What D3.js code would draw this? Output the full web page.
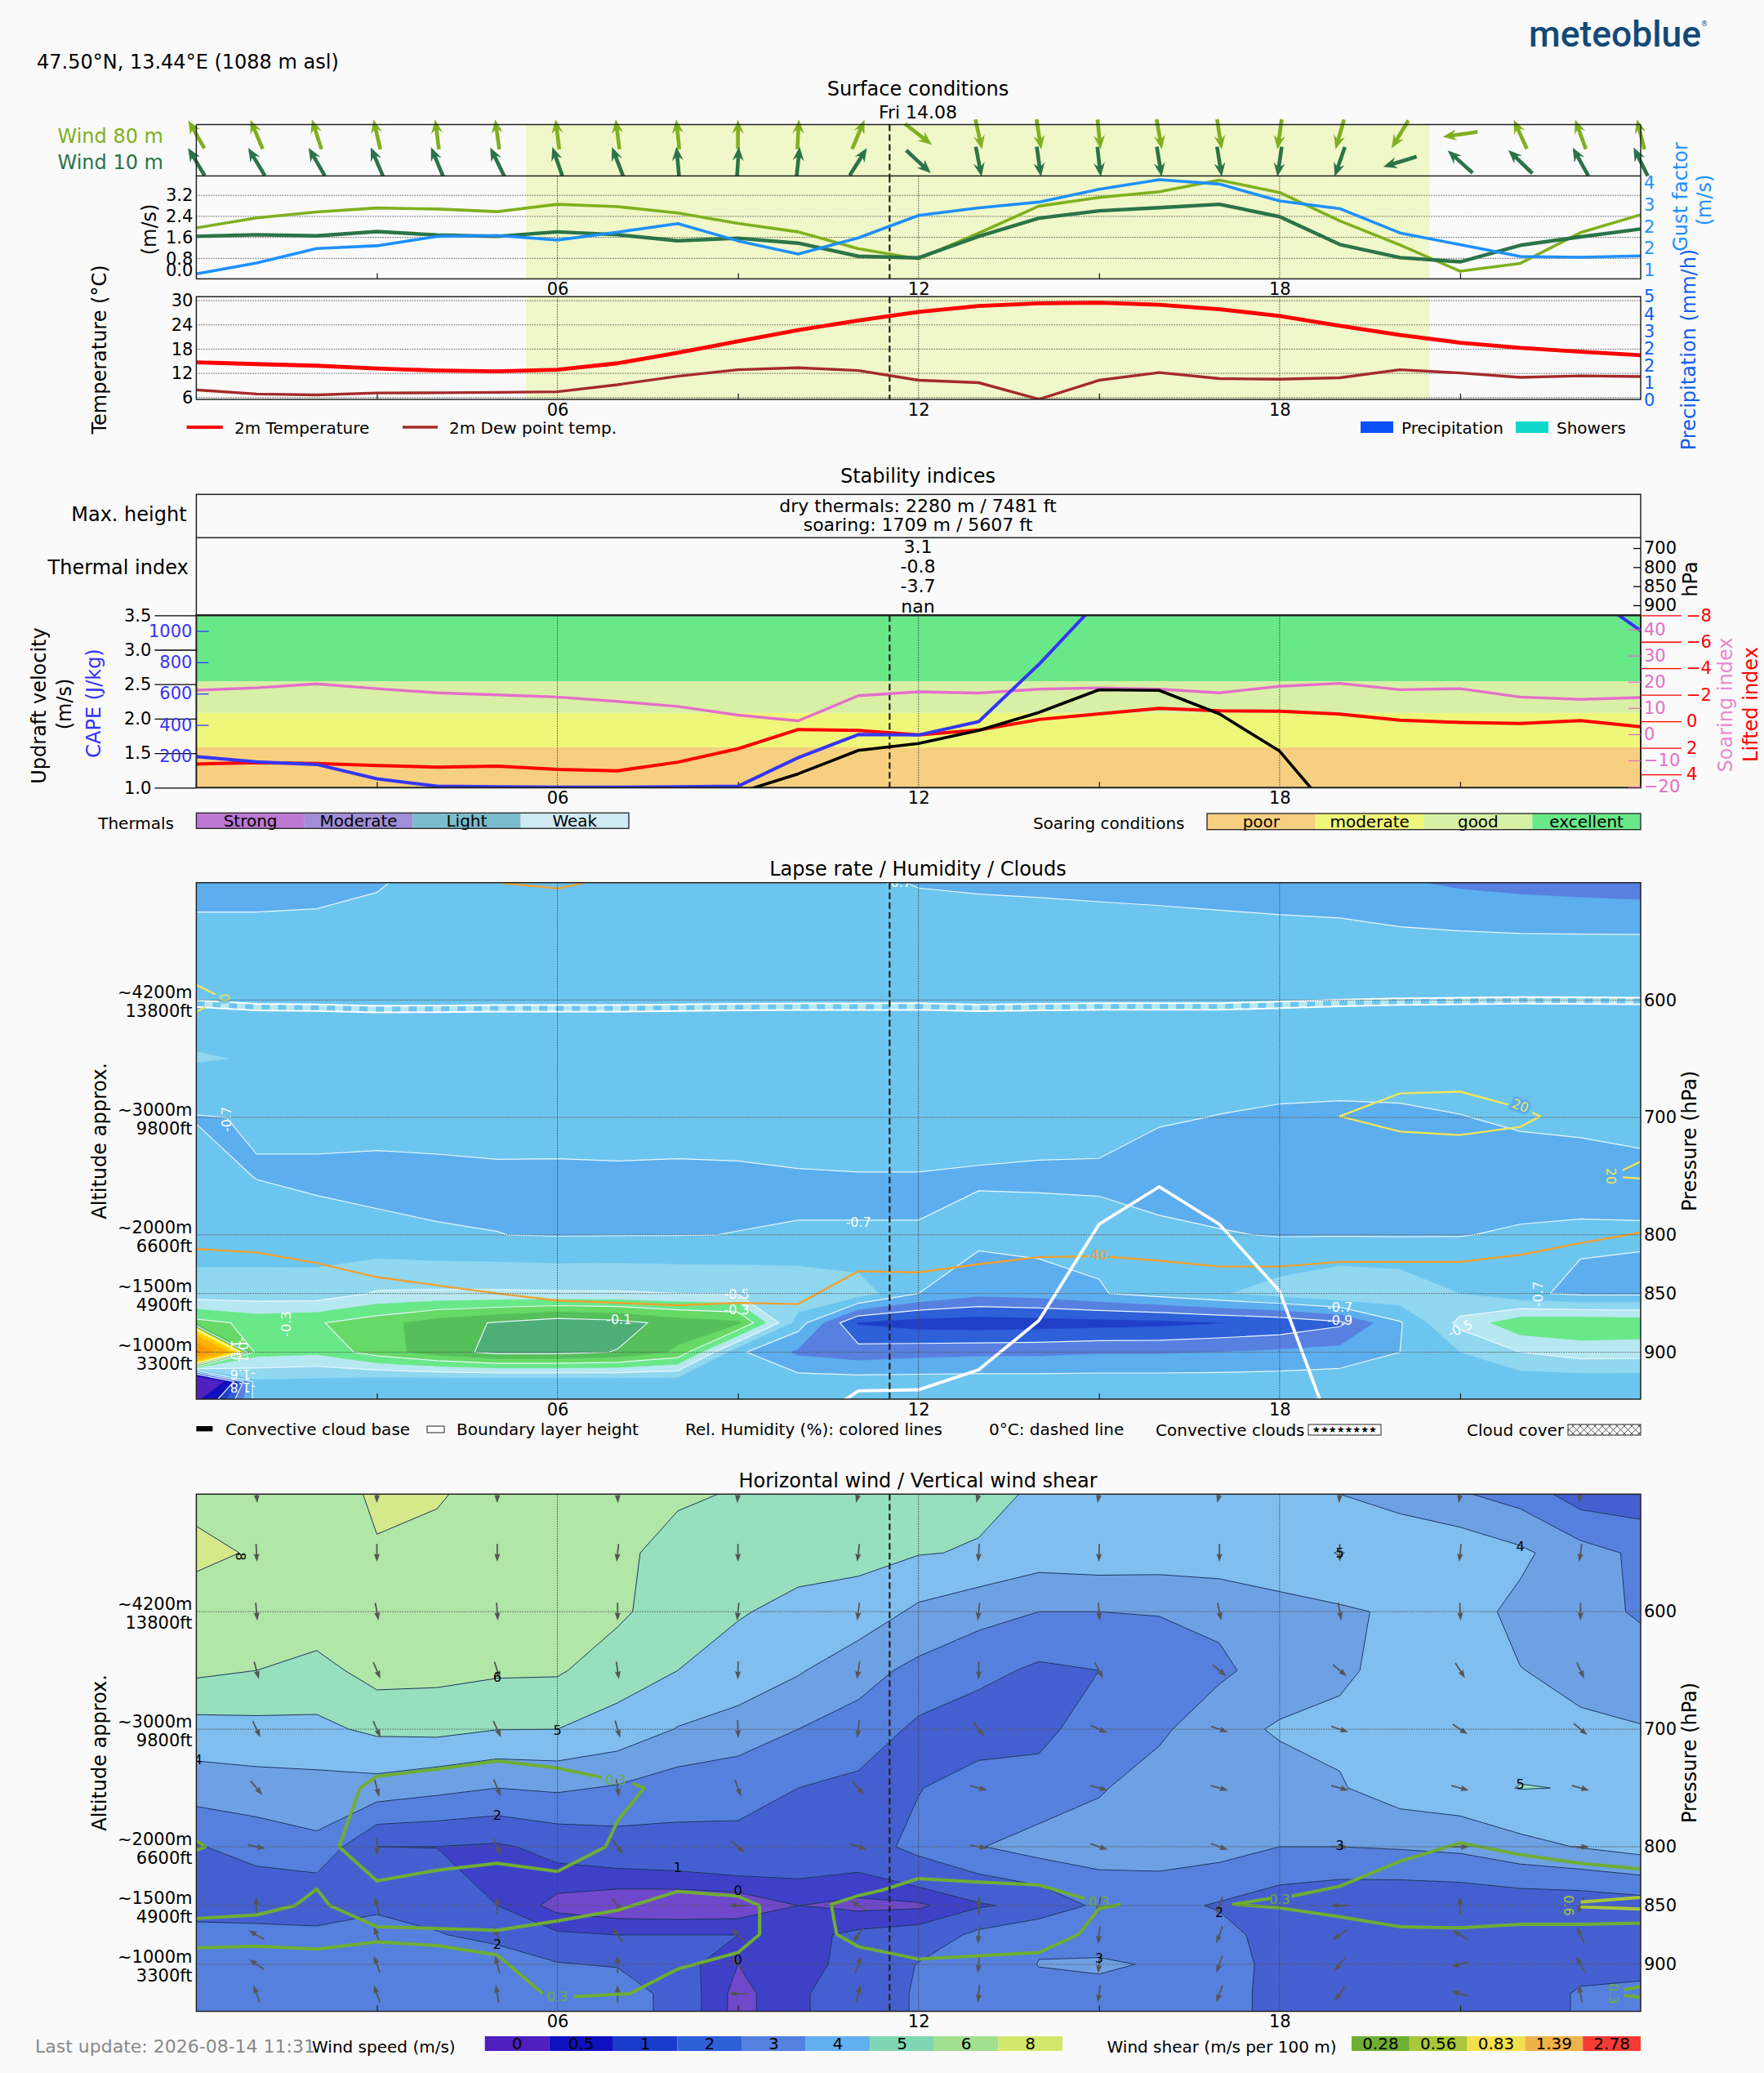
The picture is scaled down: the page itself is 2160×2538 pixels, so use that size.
<!DOCTYPE html>
<html>
<head>
<meta charset="utf-8">
<script src="https://cdnjs.cloudflare.com/ajax/libs/d3/7.8.5/d3.min.js"></script>
<style>
  body { margin: 0; background: #fafafa; }
  text { font-family: "DejaVu Sans"; }
</style>
</head>
<body>
<svg id="chart" width="2160" height="2538"></svg>
<script>
// meteogram, hourly values
let hours = d3.range(25);
let hourTicks = [6, 12, 18];
let hourMinor = [3, 9, 15, 21];
let nowHour = 11.52;
let dayStart = 5.48, dayEnd = 20.49;

let dir80 = [330,337,342,347,353,352,353,353,354,0,3,23,128,167.5,171,174,170,171,188,196,211,262,335.5,340,346];
let dir10 = [329,329,330,337,337.5,334,341,339,355,3.5,6,32,133,169,172,173.5,171,171,188,199,253,312,314,331,333.6];

let wind80 = [1.96,2.34,2.57,2.72,2.68,2.58,2.86,2.77,2.53,2.13,1.81,1.17,0.78,1.76,2.79,3.12,3.34,3.78,3.31,2.23,1.31,0.31,0.61,1.78,2.46];
let wind10 = [1.64,1.70,1.66,1.82,1.69,1.64,1.81,1.70,1.47,1.57,1.38,0.88,0.82,1.64,2.33,2.61,2.73,2.86,2.39,1.33,0.83,0.67,1.30,1.62,1.92];
let gust = [0.67,1.07,1.60,1.70,2.04,2.08,1.91,2.20,2.51,1.88,1.40,1.99,2.81,3.09,3.30,3.77,4.12,3.96,3.34,3.06,2.17,1.74,1.31,1.28,1.33];
let windTicks = [0, 0.8, 1.6, 2.4, 3.2];
let gustTicks = [0.8, 1.6, 2.4, 3.2, 4.0];

let temperature = [14.74,14.3,13.9,13.2,12.7,12.5,12.9,14.5,17.1,19.95,22.7,25.1,27.2,28.7,29.35,29.5,29,27.9,26.2,23.8,21.5,19.6,18.3,17.35,16.5];
let dewPoint = [7.9,6.9,6.65,7.15,7.2,7.3,7.45,9.2,11.3,12.9,13.4,12.7,10.3,9.7,5.6,10.3,12.2,10.7,10.55,10.9,12.9,12.1,11,11.4,11.2];
let tempTicks = [6, 12, 18, 24, 30];
let precipTicks = [0, 0.8, 1.6, 2.4, 3.2, 4.0, 4.8];

let soaringIndex = [16.8,17.7,19.2,17.4,15.8,15,14.2,12.5,10.6,7.3,5.1,14.7,16.2,15.7,17.2,17.7,17.2,15.8,18.3,19.4,17,17.4,14.2,13.3,14];
let liftedIndex = [3.22,3.12,3.18,3.34,3.45,3.38,3.63,3.73,3.08,2.07,0.62,0.68,1.03,0.66,-0.14,-0.57,-0.98,-0.8,-0.76,-0.55,-0.08,0.08,0.16,-0.06,0.41];
let cape = [198,165,148,56,9,5,3,3,5,9,191,339,336,421,786,1195,1400,1500,1550,1500,1450,1400,1350,1271,1002];
let updraft = [0.7,0.7,0.7,0.7,0.7,0.7,0.7,0.7,0.7,0.925,1.2,1.54,1.64,1.83,2.09,2.42,2.41,2.07,1.53,0.5,0.3,0.3,0.3,0.3,0.3];
let updraftTicks = [1, 1.5, 2, 2.5, 3, 3.5];
let capeTicks = [200, 400, 600, 800, 1000];
let soaringTicks = [-20, -10, 0, 10, 20, 30, 40];
let liftedTicks = [-8, -6, -4, -2, 0, 2, 4];

let soaringNames = ["poor", "moderate", "good", "excellent"];
let soaringLimits = [1, 1.584, 2.085, 2.544, 3.5];
let soaringColors = ["#f7cf80", "#eff77a", "#d8f0a6", "#69e889"];
let thermalNames = ["Strong", "Moderate", "Light", "Weak"];
let thermalColors = ["#bd78d4", "#a08fd8", "#7bbccc", "#cfeaf3"];
let thermalIndex = ["3.1", "-0.8", "-3.7", "nan"];
let thermalPressures = ["700", "800", "850", "900"];

// both contour panels share the same model levels
let levels = [500,550,600,650,700,750,800,850,875,900,925,940];
let pressureTicks = [600, 700, 800, 850, 900];
let altMeters = ["~4200m", "~3000m", "~2000m", "~1500m", "~1000m"];
let altFeet = ["13800ft", "9800ft", "6600ft", "4900ft", "3300ft"];

let lapse500 = [-.75,-.75,-.74,-.71,-.66,-.66,-.66,-.66,-.66,-.66,-.66,-.68,-.705,-.712,-.717,-.724,-.732,-.744,-.76,-.775,-.79,-.815,-.83,-.84,-.85];
let lapse550 = [-.65,-.65,-.65,-.65,-.65,-.65,-.65,-.65,-.65,-.65,-.65,-.65,-.65,-.65,-.65,-.65,-.65,-.65,-.65,-.65,-.67,-.675,-.68,-.68,-.68];
let lapse600 = [-.65,-.65,-.65,-.65,-.65,-.65,-.65,-.65,-.65,-.65,-.65,-.65,-.65,-.65,-.65,-.65,-.65,-.65,-.65,-.65,-.65,-.65,-.65,-.65,-.65];
let lapse650 = [-.593,-.606,-.65,-.65,-.65,-.65,-.65,-.65,-.65,-.65,-.65,-.65,-.65,-.65,-.65,-.65,-.65,-.65,-.65,-.65,-.65,-.65,-.65,-.65,-.65];
let lapse700 = [-.705,-.695,-.66,-.66,-.66,-.66,-.66,-.66,-.66,-.66,-.66,-.66,-.66,-.66,-.66,-.67,-.69,-.703,-.715,-.72,-.716,-.703,-.686,-.68,-.672];
let lapse750 = [-.66,-.703,-.724,-.731,-.724,-.716,-.717,-.714,-.717,-.714,-.706,-.703,-.703,-.709,-.715,-.713,-.75,-.75,-.76,-.76,-.76,-.75,-.745,-.738,-.725];
let lapse800 = [-.65,-.65,-.651,-.675,-.693,-.699,-.705,-.703,-.702,-.699,-.698,-.699,-.699,-.673,-.662,-.675,-.675,-.694,-.705,-.705,-.706,-.703,-.69,-.686,-.692];
let lapse850 = [-.56,-.56,-.56,-.49,-.485,-.485,-.49,-.49,-.50,-.505,-.513,-.547,-.70,-.772,-.755,-.708,-.66,-.61,-.558,-.507,-.526,-.60,-.68,-.72,-.72];
let lapse875 = [-.26,-.33,-.31,-.24,-.15,-.09,-.03,-.06,-.14,-.18,-.65,-1.01,-1.05,-1.06,-1.05,-1.04,-1.03,-1.005,-.98,-.92,-.71,-.47,-.33,-.32,-.33];
let lapse900 = [1.3,-.36,-.38,-.25,-.15,-.07,-.07,-.105,-.22,-.68,-.82,-.857,-.836,-.825,-.823,-.81,-.81,-.80,-.782,-.766,-.70,-.60,-.50,-.454,-.456];
let lapse925 = [-1.9,-.62,-.63,-.66,-.67,-.68,-.68,-.67,-.66,-.65,-.65,-.655,-.655,-.655,-.655,-.655,-.655,-.655,-.655,-.646,-.65,-.65,-.66,-.66,-.66];
let lapse940 = [-1.35,-.65,-.65,-.65,-.65,-.65,-.65,-.65,-.65,-.65,-.65,-.65,-.65,-.65,-.65,-.65,-.65,-.65,-.65,-.65,-.65,-.65,-.65,-.65,-.65];
let lapseGrid = [lapse500,lapse550,lapse600,lapse650,lapse700,lapse750,lapse800,lapse850,lapse875,lapse900,lapse925,lapse940];
let lapseLevels = [-1.3,-1.1,-1.0,-0.9,-0.8,-0.7,-0.6,-0.5,-0.4,-0.3,-0.2,-0.1,0,0.2,0.4,0.8,1.2];
let lapseColors = ["#1010c0","#1f3fc8","#2e60d9","#5880e0","#5daeee","#6cc5ef","#90d7f0","#b7e8f2","#69e889","#66d966","#55bf5a","#4fae78","#ffee00","#ffd000","#ffb000","#ff9800","#f05a30"];
let lapseBase = "#5020c0";
let lapseLines = [-1.1,-0.9,-0.7,-0.5,-0.3,-0.1,0.1];

let zeroDeg = [603,606,606.5,607.7,607.5,607,607,607,606.5,606,605.7,605.6,605.5,606.6,606,605.5,605.5,605.5,604,602.5,601.3,600.8,600.3,600.5,600.8];
let boundaryLayer = [1000,1000,1000,1000,1000,1000,1000,1000,1000,1000,967,933,932,915,873,791,759,791,848,986,1000,1000,1000,1000,1000];
let rh40 = [812,815,824,836,843,850,856,858,860,858,859,831,832,825,819,818,822,827,827,823,823,823,817,807,798];
let rh40Top = [[5.05,500],[6,505],[6.46,500]];
let rh20Ring = [[22.2,696],[22.33,699],[22,708],[21,715],[20,712],[19,699],[20,679.5],[21,678],[21.8,689]];
let rh20Right = [[[24,737.5],[23.7,745]],[[23.7,751],[24,752]]];
let rh20Left = [[[0,587],[0.31,595]],[[0,610],[0.15,606]]];

let lapseLabels = [
  ["-0.1",7.02,872.4,0],["-0.3",1.49,876,-90],["-0.3",8.98,864,0],["-0.5",8.98,850.6,0],["-0.7",11,789,0],
  ["-0.7",0.5,701.6,-90],["-0.7",11.67,500,0],["-0.7",19,862,0],["-0.9",19,873,0],["-0.5",21,880,-25],
  ["-0.7",22.3,850.6,-90],["1.0",0.65,898,90],["-0.1",0.78,898,90],["-1.6",0.77,919,180],["-1.8",0.77,929.6,180]
];
let rhLabels = [["40",15,817,0,"#f0a030","#6cc5ef"],["20",22,690,20,"#f2e55a","#5daeee"],["20",23.5,750,90,"#f2e55a","#5daeee"],["0",0.48,598,-90,"#f2e55a","#6cc5ef"]];

let wind500 = [7.4,7.0,6.0,8.6,8.1,7.6,7.2,6.8,6.2,5.9,5.6,5.5,5.4,5.2,4.9,4.8,4.75,4.75,4.6,4.0,3.8,3.1,2.6,1.5,1.4];
let wind550 = [8.5,7.8,7.0,7.72,7.7,7.5,7.2,6.3,5.5,5.6,5.5,5.25,5.05,4.93,4.5,4.61,4.55,4.6,4.5,5.05,4.4,4.7,4.2,3.4,2.8];
let wind600 = [6.94,7.0,6.68,7.0,7.2,7.2,7.0,6.2,5.4,5.11,4.64,4.62,3.8,3.33,3.0,3.0,3.06,3.24,3.74,3.85,4.15,4.4,3.75,3.3,2.9];
let wind650 = [6.21,6.0,5.65,6.4,6.3,6.15,6.12,5.43,5.0,4.42,4.1,3.35,2.75,2.3,1.82,2.0,2.3,2.79,3.5,3.85,4.3,4.5,4.02,3.8,3.4];
let wind700 = [4.6,4.7,4.78,5.19,5.27,5.02,5.0,4.65,3.95,3.72,3.0,2.65,1.78,1.39,1.75,2.45,2.8,3.7,4.1,4.2,4.3,4.5,4.6,4.12,4.06];
let wind750 = [3.49,3.6,3.65,3.62,3.29,3.0,3.15,2.9,2.47,2.15,2.0,1.73,1.95,2.54,2.35,2.9,3.5,3.6,3.6,3.92,4.5,4.7,5.03,4.97,4.6];
let wind800 = [1.93,2.38,2.76,1.0,0.99,0.87,1.27,1.52,1.66,1.88,1.6,1.5,2.3,2.95,3.42,3.5,3.5,3.4,3.0,3.0,3.09,3.23,3.71,4.05,4.4];
let wind850 = [1.8,1.23,1.06,1.7,1.45,1.0,0.3,0.1,0.05,0.1,0.5,0.35,0.4,0.9,1.25,2.22,2.3,1.9,1.46,1.2,1.15,1.2,1.3,1.3,1.5];
let wind875 = [2.16,2.49,2.41,2.7,2.09,1.6,1.1,1.0,1.0,1.0,0.8,1.15,1.32,2.25,2.9,2.5,2.6,2.4,1.5,1.4,1.4,1.4,1.4,1.4,1.55];
let wind900 = [2.3,2.5,2.5,2.8,2.6,2.8,2.07,1.9,1.3,0.5,0.85,1.15,2.05,2.5,3.02,3.15,2.9,2.7,1.5,1.5,1.5,1.5,1.5,1.7,1.68];
let wind925 = [2.3,2.5,2.6,2.9,2.7,2.9,2.7,2.8,1.45,0.3,0.95,1.2,2.15,2.5,2.8,2.7,2.7,2.6,1.5,1.5,1.5,1.5,1.5,2.1,2.25];
let wind940 = [2.3,2.5,2.6,2.8,2.7,2.9,2.8,2.8,1.45,0.3,0.95,1.2,2.15,2.5,2.8,2.7,2.7,2.6,1.5,1.5,1.5,1.5,1.5,2.1,2.25];
let windGrid = [wind500,wind550,wind600,wind650,wind700,wind750,wind800,wind850,wind875,wind900,wind925,wind940];
let windLevels = [0.5,1,2,3,4,5,6,8];
let windColors = ["#3f40c8","#4460d0","#5680dd","#6ea0e4","#80beef","#96e0bd","#b0e6a6","#d6e98a"];
let windBase = "#7048cc";
let windLegendNames = ["0","0.5","1","2","3","4","5","6","8"];
let windLegendColors = ["#4f1fc0","#1010c0","#1a3ccc","#2e60d9","#5480e0","#62b0ef","#7fd6b4","#a2e090","#d3e86a"];
let shearLegendNames = ["0.28","0.56","0.83","1.39","2.78"];
let shearLegendColors = ["#6fae34","#a8c83a","#f4e04d","#efb24a","#f53b35"];

let windLabels = [
  ["8",0.74,553,90],["6",5,656,0],["5",6,700.7,0],["4",0.03,726,0],["2",5,773,0],["1",8,818,0],["0",9,837,0],["0",9,896,0],
  ["2",5,883,0],["5",19,550,0],["4",22,544.6,0],["5",22,747,0],["3",19,799,0],["2",17,856,0],["3",15,895,0]
];

// wind direction arrows: every second hour from 01, degrees clockwise from north
let arrowHours = d3.range(1, 24, 2);
let arrowLevels = [500,550,600,650,700,750,800,850,875,900,925];
let arrow500 = [175,180,180,178,185,195,195,190,195,185,190,190];
let arrow550 = [177,180,180,186,180,187,184,182,180,180,186,188];
let arrow600 = [175,170,176,180,186,187,186,176,168,170,178,180];
let arrow650 = [165,157,162,172,181,189,180,153,130,130,147,156];
let arrow700 = [155,156,155,164,178,186,144,114,109,109,124,130];
let arrow750 = [140,165,158,171,160,140,105,105,105,105,105,105];
let arrow800 = [102,180,155,142,131,109,100,109,110,92,90,90];
let arrow850 = [0,345,0,145,270,300,0,190,200,270,0,200];
let arrow875 = [300,340,340,325,315,215,185,185,200,235,300,335];
let arrow900 = [305,340,345,0,320,20,185,185,200,220,255,330];
let arrow925 = [340,340,350,0,270,15,185,188,200,215,285,350];
let arrowGrid = [arrow500,arrow550,arrow600,arrow650,arrow700,arrow750,arrow800,arrow850,arrow875,arrow900,arrow925];

// wind shear 0.3 / 0.6 isolines as [hour, pressure]
let shear03 = [
  [[6.74,741],[6,733],[5,727],[4,734],[3,740],[2.72,750],[2.37,800],[3,829],[4,820],[5,814],[6,821],[6.8,800],[7,778],[7.44,750],[7.25,746]],
  [[0,795],[0.15,800],[0,803]],
  [[0,861],[1,858],[1.64,850],[2,836],[2.22,850],[3,868],[5,871],[6,863],[7,854],[8,838],[9,842],[9.36,850],[9.36,874.5],[9,890],[8,904],[7.2,925],[6.27,927.5]],
  [[5.76,925],[5,892],[4,884],[3,881],[2,887],[1,884.5],[0,886]],
  [[15.36,849],[15,852.7],[14.66,874.5],[14,890],[12,895.6],[11.39,889],[11,885],[10.64,874.5],[10.55,849],[11,841.6],[11.39,837],[12,827],[13,830],[14,832.5],[14.76,844]],
  [[17.84,844],[17.23,849],[18,852],[19,859.5],[20,868],[21,869],[22,866],[23,866],[24,865]],
  [[18.2,842],[19,833.6],[20,812.4],[21,796.6],[22,806.7],[23,814],[24,819]],
  [[23.73,921.5],[24,919]],
  [[23.73,926.5],[24,928]]
];
let shear06 = [[[23,847],[24,843]],[[23,851],[24,853]]];
let shearLabels = [["0.3",6.97,743.6,0],["0.3",6,927.5,0],["0.3",15,847,0],["0.3",18,845,0],["0.6",22.8,850,90],["0.3",23.55,925,90]];

let svg = d3.select("#chart");
let defs = svg.append("defs");
svg.append("rect").attr("width", 2160).attr("height", 2538).attr("fill", "#fafafa");

let x = d3.scaleLinear().domain([0, 24]).range([240.4, 2009]);
let clipCount = 0;

function label(txt, px, py, size, opts) {
  opts = opts || {};
  let t = svg.append("text").text(txt)
    .attr("font-size", size)
    .attr("fill", opts.fill || "#000")
    .attr("text-anchor", opts.anchor || "middle")
    .attr("dominant-baseline", "central");
  if (opts.rotate) t.attr("transform", "translate(" + px + "," + py + ") rotate(" + opts.rotate + ")");
  else t.attr("x", px).attr("y", py);
  return t;
}

function clipGroup(top, bottom) {
  clipCount++;
  defs.append("clipPath").attr("id", "clip" + clipCount).append("rect")
    .attr("x", x(0)).attr("y", top).attr("width", x(24) - x(0)).attr("height", bottom - top);
  return svg.append("g").attr("clip-path", "url(#clip" + clipCount + ")");
}

function frame(top, bottom, width) {
  svg.append("rect").attr("x", x(0)).attr("y", top).attr("width", x(24) - x(0)).attr("height", bottom - top)
    .attr("fill", "none").attr("stroke", "#222").attr("stroke-width", width || 1.5);
}

function styleAxis(g, color, size) {
  g.select(".domain").remove();
  g.attr("font-family", "DejaVu Sans").attr("font-size", size || 21);
  g.selectAll("text").attr("fill", color);
  g.selectAll("line").attr("stroke", color).attr("stroke-width", 1.3);
}

function nowLine(top, bottom) {
  svg.append("line").attr("x1", x(nowHour)).attr("x2", x(nowHour)).attr("y1", top).attr("y2", bottom)
    .attr("stroke", "#222").attr("stroke-width", 2.2).attr("stroke-dasharray", "8 4");
}

function hourAxis(top, bottom, withNow) {
  let g = svg.append("g");
  g.selectAll("line.grid").data(hourTicks).enter().append("line")
    .attr("x1", d => x(d)).attr("x2", d => x(d)).attr("y1", top).attr("y2", bottom)
    .attr("stroke", "#444").attr("stroke-width", 1).attr("stroke-dasharray", "1.5 1.5");
  let minor = g.append("g").attr("transform", "translate(0," + bottom + ")")
    .call(d3.axisBottom(x).tickValues(hourMinor).tickSize(-7).tickFormat(""));
  styleAxis(minor, "#222");
  let major = svg.append("g").attr("transform", "translate(0," + bottom + ")")
    .call(d3.axisBottom(x).tickValues(hourTicks).tickSize(0).tickPadding(5).tickFormat(d3.format("02d")));
  styleAxis(major, "#000");
  if (withNow) nowLine(top, bottom);
}

function yGrid(scale, values) {
  svg.append("g").selectAll("line").data(values).enter().append("line")
    .attr("x1", x(0)).attr("x2", x(24)).attr("y1", d => scale(d)).attr("y2", d => scale(d))
    .attr("stroke", "#555").attr("stroke-width", 1).attr("stroke-dasharray", "1.5 1.5");
}

function seriesLine(g, values, scale, color, width) {
  let line = d3.line().x((d, i) => x(i)).y(d => scale(d));
  g.append("path").attr("d", line(values)).attr("fill", "none").attr("stroke", color)
    .attr("stroke-width", width).attr("stroke-linejoin", "round");
}

function dayBand(top, bottom) {
  svg.append("rect").attr("x", x(dayStart)).attr("y", top).attr("width", x(dayEnd) - x(dayStart))
    .attr("height", bottom - top).attr("fill", "#f0f7c8");
}

function surfaceArrows(values, cy, color) {
  svg.append("g").selectAll("path").data(values).enter().append("path")
    .attr("d", d => {
      // arrows look a little longer when they lie flat
      let len = 36 + 7 * Math.abs(Math.sin(d * Math.PI / 180));
      let tip = -len / 2;
      return "M-2.3," + (len / 2) + "L-2.3," + (tip + 13) + "L-7," + (tip + 17) + "L0," + tip +
             "L7," + (tip + 17) + "L2.3," + (tip + 13) + "L2.3," + (len / 2) + "Z";
    })
    .attr("transform", (d, i) => "translate(" + x(i) + "," + cy + ") rotate(" + d + ")")
    .attr("fill", color);
}

// ---- title block ----
label("47.50°N, 13.44°E (1088 m asl)", 45, 75.7, 24, {anchor: "start"});
svg.append("text").text("meteoblue").attr("x", 1872).attr("y", 56.7)
  .attr("font-size", 45).attr("fill", "#134a77").attr("font-weight", 500)
  .style("font-family", "Roboto")
  .attr("textLength", 211).attr("lengthAdjust", "spacingAndGlyphs");
label("®", 2087, 29, 9, {fill: "#134a77"});
label("Surface conditions", 1124, 109, 24);
label("Fri 14.08", 1124, 137.5, 22);

// ---- surface arrows ----
let arrowTop = 152.5, arrowBottom = 215.4;
dayBand(arrowTop, arrowBottom);
surfaceArrows(dir80, 164.5, "#7fb01e");
surfaceArrows(dir10, 198, "#2a7448");
svg.append("line").attr("x1", x(0)).attr("x2", x(24)).attr("y1", arrowTop).attr("y2", arrowTop).attr("stroke", "#222").attr("stroke-width", 1.5);
svg.append("line").attr("x1", x(0)).attr("x2", x(0)).attr("y1", arrowTop).attr("y2", arrowBottom).attr("stroke", "#222").attr("stroke-width", 1.5);
svg.append("line").attr("x1", x(24)).attr("x2", x(24)).attr("y1", arrowTop).attr("y2", arrowBottom).attr("stroke", "#222").attr("stroke-width", 1.5);
nowLine(arrowTop, arrowBottom);
label("Wind 80 m", 200, 166.8, 24, {anchor: "end", fill: "#7fb01e"});
label("Wind 10 m", 200, 199, 24, {anchor: "end", fill: "#2a7448"});

// ---- wind lines ----
let windTop = 215.4, windBottom = 341.4;
let windY = d3.scaleLinear().domain([0.02, 3.94]).range([windBottom, windTop]);
let gustY = d3.scaleLinear().domain([0.8, 4.0]).range([331, 224]);
svg.append("rect").attr("x", x(0)).attr("y", windTop).attr("width", x(24) - x(0)).attr("height", windBottom - windTop).attr("fill", "#fafafa");
dayBand(windTop, windBottom);
yGrid(windY, windTicks.slice(1));
hourAxis(windTop, windBottom, true);
let windG = clipGroup(windTop, windBottom);
seriesLine(windG, wind80, windY, "#7fb01e", 3.6);
seriesLine(windG, wind10, windY, "#2a7448", 4.4);
seriesLine(windG, gust, gustY, "#1e90ff", 3.6);
frame(windTop, windBottom);
let windAxis = svg.append("g").attr("transform", "translate(" + x(0) + ",0)")
  .call(d3.axisLeft(windY).tickValues(windTicks).tickSize(0).tickPadding(4).tickFormat(d3.format(".1f")));
styleAxis(windAxis, "#000");
windAxis.selectAll(".tick").filter(d => d === 0).select("text").attr("dy", "-0.2em");
let gustAxis = svg.append("g").attr("transform", "translate(" + x(24) + ",0)")
  .call(d3.axisRight(gustY).tickValues(gustTicks).tickSize(0).tickPadding(4).tickFormat(d3.format(".0f")));
styleAxis(gustAxis, "#1e90ff");
label("(m/s)", 182.5, 281, 24, {rotate: -90});
label("Gust factor", 2058, 241, 24, {rotate: -90, fill: "#1e90ff"});
label("(m/s)", 2087, 245, 24, {rotate: -90, fill: "#1e90ff"});

// ---- temperature ----
let tempTop = 363.2, tempBottom = 489;
let tempY = d3.scaleLinear().domain([5.55, 31]).range([tempBottom, tempTop]);
let precipY = d3.scaleLinear().domain([0, 4.8]).range([490, 363.2]);
dayBand(tempTop, tempBottom);
yGrid(tempY, tempTicks);
hourAxis(tempTop, tempBottom, true);
let tempG = clipGroup(tempTop, tempBottom);
seriesLine(tempG, temperature, tempY, "#ff0000", 4.8);
seriesLine(tempG, dewPoint, tempY, "#a52a2a", 3.4);
frame(tempTop, tempBottom);
styleAxis(svg.append("g").attr("transform", "translate(" + x(0) + ",0)")
  .call(d3.axisLeft(tempY).tickValues(tempTicks).tickSize(0).tickPadding(4)), "#000");
styleAxis(svg.append("g").attr("transform", "translate(" + x(24) + ",0)")
  .call(d3.axisRight(precipY).tickValues(precipTicks).tickSize(0).tickPadding(4).tickFormat(d3.format(".0f"))), "#1060f0");
label("Temperature (°C)", 122, 428, 24, {rotate: -90});
label("Precipitation (mm/h)", 2068, 428, 24, {rotate: -90, fill: "#1060f0"});
svg.append("line").attr("x1", 228.6).attr("x2", 272.7).attr("y1", 523).attr("y2", 523).attr("stroke", "#ff0000").attr("stroke-width", 4);
label("2m Temperature", 287, 524, 20, {anchor: "start"});
svg.append("line").attr("x1", 493).attr("x2", 536).attr("y1", 523).attr("y2", 523).attr("stroke", "#a52a2a").attr("stroke-width", 3.4);
label("2m Dew point temp.", 550, 524, 20, {anchor: "start"});
svg.append("rect").attr("x", 1666).attr("y", 516).attr("width", 40).attr("height", 14).attr("fill", "#0b50f5");
label("Precipitation", 1716, 524, 20, {anchor: "start"});
svg.append("rect").attr("x", 1856).attr("y", 516).attr("width", 40).attr("height", 14).attr("fill", "#10d8c8");
label("Showers", 1906, 524, 20, {anchor: "start"});

// ---- stability ----
label("Stability indices", 1124, 583, 24);
let maxTop = 605.3, thermalTop = 658.3, stabTop = 753.3, stabBottom = 964.3;
frame(maxTop, thermalTop);
label("Max. height", 228.6, 630, 24, {anchor: "end"});
label("Thermal index", 230.7, 695, 24, {anchor: "end"});
label("dry thermals: 2280 m / 7481 ft", 1124, 619, 22);
label("soaring: 1709 m / 5607 ft", 1124, 642.7, 22);
svg.append("line").attr("x1", x(0)).attr("x2", x(0)).attr("y1", thermalTop).attr("y2", stabTop).attr("stroke", "#222").attr("stroke-width", 1.5);
svg.append("line").attr("x1", x(24)).attr("x2", x(24)).attr("y1", thermalTop).attr("y2", stabTop).attr("stroke", "#222").attr("stroke-width", 1.5);
let thermalY = d3.scalePoint().domain(d3.range(4)).range([669.5, 742]);
thermalIndex.forEach((t, i) => label(t, 1124, thermalY(i), 22));
let hpaY = d3.scalePoint().domain(thermalPressures).range([671, 741]);
styleAxis(svg.append("g").attr("transform", "translate(" + x(24) + ",0)")
  .call(d3.axisRight(hpaY).tickSize(-9).tickPadding(4)), "#000");
label("hPa", 2070, 709, 24, {rotate: -90});

let updraftY = d3.scaleLinear().domain([1, 3.5]).range([stabBottom, stabTop]);
let capeY = d3.scaleLinear().domain([0, 1100]).range([stabBottom, stabTop]);
let soaringY = d3.scaleLinear().domain([-20.4, 45.4]).range([stabBottom, stabTop]);
let liftedY = d3.scaleLinear().domain([5, -8]).range([stabBottom, stabTop]);
svg.append("g").selectAll("rect").data(soaringColors).enter().append("rect")
  .attr("x", x(0)).attr("width", x(24) - x(0))
  .attr("y", (d, i) => updraftY(soaringLimits[i + 1]))
  .attr("height", (d, i) => updraftY(soaringLimits[i]) - updraftY(soaringLimits[i + 1]))
  .attr("fill", d => d);
hourAxis(stabTop, stabBottom, true);
let stabG = clipGroup(stabTop, stabBottom);
seriesLine(stabG, soaringIndex, soaringY, "#e36fc9", 3.4);
seriesLine(stabG, liftedIndex, liftedY, "#ff0000", 4);
seriesLine(stabG, cape, capeY, "#3535f5", 4);
seriesLine(stabG, updraft, updraftY, "#000", 3.6);
svg.append("line").attr("x1", x(0)).attr("x2", x(24)).attr("y1", stabTop).attr("y2", stabTop).attr("stroke", "#000").attr("stroke-width", 2);
frame(stabTop, stabBottom, 2);
styleAxis(svg.append("g").attr("transform", "translate(" + x(0) + ",0)")
  .call(d3.axisLeft(updraftY).tickValues(updraftTicks).tickSize(51).tickPadding(4).tickFormat(d3.format(".1f"))), "#000");
styleAxis(svg.append("g").attr("transform", "translate(" + x(0) + ",0)")
  .call(d3.axisRight(capeY).tickValues(capeTicks).tickSize(15).tickPadding(0).tickFormat(d3.format("d")))
  .call(g => g.selectAll("text").attr("x", -5).attr("text-anchor", "end")), "#3535f5");
styleAxis(svg.append("g").attr("transform", "translate(" + x(24) + ",0)")
  .call(d3.axisRight(soaringY).tickValues(soaringTicks).tickSize(-15).tickPadding(4)), "#e36fc9");
styleAxis(svg.append("g").attr("transform", "translate(" + x(24) + ",0)")
  .call(d3.axisRight(liftedY).tickValues(liftedTicks).tickSize(50).tickPadding(6)), "#ff0000");
label("Updraft velocity", 48, 864, 24, {rotate: -90});
label("(m/s)", 79, 862, 24, {rotate: -90});
label("CAPE (J/kg)", 115, 861, 24, {rotate: -90, fill: "#3535f5"});
label("Soaring index", 2113, 863, 24, {rotate: -90, fill: "#e88ad0"});
label("Lifted index", 2144, 862.5, 24, {rotate: -90, fill: "#ff0000"});

function legendBar(names, colors, left, right, top, bottom, size) {
  let band = d3.scaleBand().domain(names).range([left, right]);
  let g = svg.append("g");
  g.selectAll("rect").data(names).enter().append("rect")
    .attr("x", d => band(d)).attr("y", top).attr("width", band.bandwidth()).attr("height", bottom - top)
    .attr("fill", (d, i) => colors[i]);
  names.forEach(n => label(n, band(n) + band.bandwidth() / 2, (top + bottom) / 2, size || 20));
}
legendBar(thermalNames, thermalColors, 240.4, 770, 995.3, 1014.3);
svg.append("rect").attr("x", 240.4).attr("y", 995.3).attr("width", 529.6).attr("height", 19).attr("fill", "none").attr("stroke", "#222").attr("stroke-width", 1.3);
label("Thermals", 213, 1008, 20, {anchor: "end"});
legendBar(soaringNames, soaringColors, 1478, 2009, 996, 1015.7);
svg.append("rect").attr("x", 1478).attr("y", 996).attr("width", 531).attr("height", 19.7).attr("fill", "none").attr("stroke", "#222").attr("stroke-width", 1.3);
label("Soaring conditions", 1450.5, 1008, 20, {anchor: "end"});

// ---- contour panels ----
function contourPanel(top, bottom, grid, thresholds, colors, base, lineLevels, lineColor, lineWidth) {
  let pressureY = d3.scaleLinear().domain([500, 940]).range([top, bottom]);
  let rowY = d3.scaleLinear().domain(d3.range(levels.length)).range(levels.map(pressureY));
  let projection = d3.geoTransform({
    point: function (cx, cy) { this.stream.point(x(cx - 0.5), rowY(cy - 0.5)); }
  });
  let geopath = d3.geoPath().projection(projection);
  let g = clipGroup(top, bottom);
  g.append("rect").attr("x", x(0)).attr("y", top).attr("width", x(24) - x(0)).attr("height", bottom - top).attr("fill", base);
  let flat = grid.flat();
  let maker = d3.contours().size([grid[0].length, grid.length]);
  g.selectAll("path.band").data(maker.thresholds(thresholds)(flat)).enter().append("path")
    .attr("class", "band").attr("d", geopath)
    .attr("fill", (d, i) => colors[i]).attr("stroke", (d, i) => colors[i]).attr("stroke-width", 0.5);
  g.selectAll("path.iso").data(maker.thresholds(lineLevels)(flat)).enter().append("path")
    .attr("class", "iso").attr("d", geopath)
    .attr("fill", "none").attr("stroke", lineColor).attr("stroke-width", lineWidth);
  return {g: g, pressureY: pressureY};
}

function pressureAxes(pressureY, top, bottom) {
  yGrid(pressureY, pressureTicks);
  hourAxis(top, bottom, true);
  frame(top, bottom);
  styleAxis(svg.append("g").attr("transform", "translate(" + x(24) + ",0)")
    .call(d3.axisRight(pressureY).tickValues(pressureTicks).tickSize(0).tickPadding(4)), "#000");
  let altScale = d3.scaleOrdinal().domain(altMeters).range(pressureTicks);
  altMeters.forEach((m, i) => {
    let py = pressureY(altScale(m));
    label(m, 235.5, py - 9, 21, {anchor: "end"});
    label(altFeet[i], 235.5, py + 14, 21, {anchor: "end"});
  });
  label("Altitude approx.", 122, (top + bottom) / 2, 24, {rotate: -90});
  label("Pressure (hPa)", 2069, (top + bottom) / 2, 24, {rotate: -90});
}

function isoLabels(g, list, pressureY, size, color) {
  g.selectAll("text.iso").data(list).enter().append("text")
    .attr("transform", d => "translate(" + x(d[1]) + "," + pressureY(d[2]) + ") rotate(" + d[3] + ")")
    .attr("text-anchor", "middle").attr("dominant-baseline", "central")
    .attr("font-size", size).attr("fill", color).text(d => d[0]);
}

function xyLine(g, pairs, pressureY, color, width) {
  let line = d3.line().x(d => x(d[0])).y(d => pressureY(d[1]));
  g.append("path").attr("d", line(pairs)).attr("fill", "none").attr("stroke", color)
    .attr("stroke-width", width).attr("stroke-linejoin", "round");
}

// ---- lapse rate ----
label("Lapse rate / Humidity / Clouds", 1124, 1063.7, 24);
let lapseTop = 1080.7, lapseBottom = 1713;
let lapse = contourPanel(lapseTop, lapseBottom, lapseGrid, lapseLevels, lapseColors, lapseBase, lapseLines, "#e8f6fb", 1.2);
let lapseP = lapse.pressureY;
let lapseLine = d3.line().x((d, i) => x(i)).y(d => lapseP(d));
lapse.g.append("path").attr("d", lapseLine(zeroDeg)).attr("fill", "none").attr("stroke", "#fff").attr("stroke-width", 10);
lapse.g.append("path").attr("d", lapseLine(zeroDeg)).attr("fill", "none").attr("stroke", "#b7e8f2").attr("stroke-width", 6);
lapse.g.append("path").attr("d", lapseLine(zeroDeg)).attr("fill", "none").attr("stroke", "#6cc5ef").attr("stroke-width", 6).attr("stroke-dasharray", "10 10");
lapse.g.append("path").attr("d", lapseLine(rh40)).attr("fill", "none").attr("stroke", "#f0a030").attr("stroke-width", 2.4);
xyLine(lapse.g, rh40Top, lapseP, "#f0a030", 2.4);
xyLine(lapse.g, rh20Ring, lapseP, "#f2e55a", 2.4);
rh20Right.concat(rh20Left).forEach(s => xyLine(lapse.g, s, lapseP, "#f2e55a", 2.4));
lapse.g.append("path").attr("d", lapseLine(boundaryLayer)).attr("fill", "none").attr("stroke", "#fff").attr("stroke-width", 3.8);
isoLabels(lapse.g, lapseLabels, lapseP, 16, "#fff");
rhLabels.forEach(d => {
  lapse.g.append("text").text(d[0])
    .attr("transform", "translate(" + x(d[1]) + "," + lapseP(d[2]) + ") rotate(" + d[3] + ")")
    .attr("text-anchor", "middle").attr("dominant-baseline", "central").attr("font-size", 16)
    .attr("fill", d[4]).attr("stroke", d[5]).attr("stroke-width", 6).attr("paint-order", "stroke");
});
pressureAxes(lapseP, lapseTop, lapseBottom);

defs.append("pattern").attr("id", "cloudHatch").attr("width", 9).attr("height", 9).attr("patternUnits", "userSpaceOnUse")
  .append("path").attr("d", "M0,0L9,9M9,0L0,9").attr("stroke", "#333").attr("stroke-width", 0.8);
svg.append("rect").attr("x", 240.4).attr("y", 1746).attr("width", 20).attr("height", 6.4).attr("fill", "#000");
label("Convective cloud base", 276, 1750, 20, {anchor: "start"});
svg.append("rect").attr("x", 523).attr("y", 1746).attr("width", 21).attr("height", 8).attr("fill", "#fff").attr("stroke", "#222");
label("Boundary layer height", 559, 1750, 20, {anchor: "start"});
label("Rel. Humidity (%): colored lines", 839, 1750, 20, {anchor: "start"});
label("0°C: dashed line", 1211, 1750, 20, {anchor: "start"});
label("Convective clouds", 1415, 1751, 20, {anchor: "start"});
svg.append("rect").attr("x", 1602).attr("y", 1744).attr("width", 89).attr("height", 13).attr("fill", "#fff").attr("stroke", "#222");
label("★★★★★★★★", 1646.5, 1750.5, 11);
label("Cloud cover", 1796, 1751, 20, {anchor: "start"});
svg.append("rect").attr("x", 1920).attr("y", 1744).attr("width", 89).attr("height", 13).attr("fill", "url(#cloudHatch)").attr("stroke", "#222");

// ---- horizontal wind ----
label("Horizontal wind / Vertical wind shear", 1124, 1813, 24);
let hwTop = 1829.3, hwBottom = 2462.5;
let hw = contourPanel(hwTop, hwBottom, windGrid, windLevels, windColors, windBase, windLevels, "#1d3560", 1);
let hwP = hw.pressureY;
arrowGrid.forEach((row, r) => {
  hw.g.append("g").selectAll("path").data(row).enter().append("path")
    .attr("d", "M-0.9,11L-0.9,-2L-3.6,-1L0,-11L3.6,-1L0.9,-2L0.9,11Z")
    .attr("transform", (d, i) => "translate(" + x(arrowHours[i]) + "," + hwP(arrowLevels[r]) + ") rotate(" + d + ")")
    .attr("fill", "#555");
});
shear03.forEach(s => xyLine(hw.g, s, hwP, "#6fae34", 4));
shear06.forEach(s => xyLine(hw.g, s, hwP, "#a8c83a", 4));
isoLabels(hw.g, windLabels, hwP, 16, "#000");
isoLabels(hw.g, shearLabels.filter(d => d[0] === "0.3"), hwP, 16, "#6fae34");
isoLabels(hw.g, shearLabels.filter(d => d[0] === "0.6"), hwP, 16, "#a8c83a");
pressureAxes(hwP, hwTop, hwBottom);

label("Last update: 2026-08-14 11:31", 43, 2505, 22, {anchor: "start", fill: "#888"});
label("Wind speed (m/s)", 382, 2506, 20, {anchor: "start"});
legendBar(windLegendNames, windLegendColors, 593.7, 1301, 2493, 2511);
label("Wind shear (m/s per 100 m)", 1355.5, 2506, 20, {anchor: "start"});
legendBar(shearLegendNames, shearLegendColors, 1655, 2009, 2493, 2511);
</script>
</body>
</html>
